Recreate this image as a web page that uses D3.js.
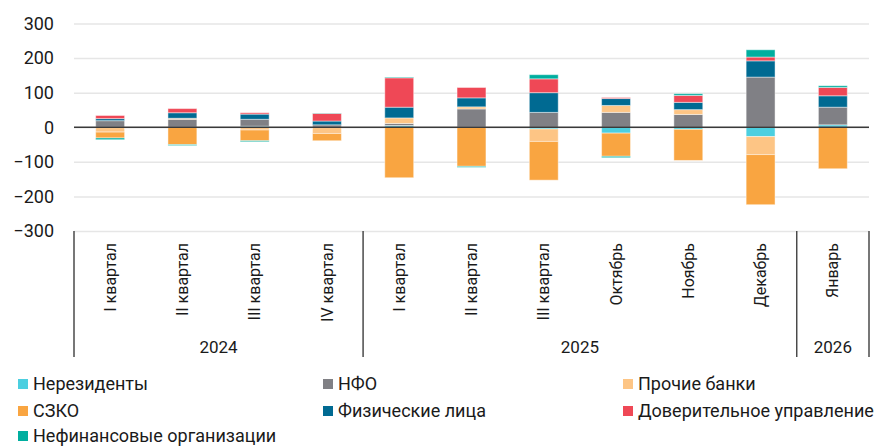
<!DOCTYPE html>
<html>
<head>
<meta charset="utf-8">
<script src="https://cdn.jsdelivr.net/npm/d3@7"></script>
<style>
  body { margin: 0; background: #fff; }
  svg { display: block; font-family: Roboto, "Noto Sans", sans-serif; }
</style>
</head>
<body>
<svg id="chart" width="891" height="447"></svg>
<script>
const categories = ['I квартал', 'II квартал', 'III квартал', 'IV квартал', 'I квартал', 'II квартал', 'III квартал', 'Октябрь', 'Ноябрь', 'Декабрь', 'Январь']
const yearLabels = ['2024', '2025', '2026']
const yearSpans = [4, 6, 1]
const yTicks = [-300, -200, -100, 0, 100, 200, 300]

const seriesNames = ['Нерезиденты', 'НФО', 'Прочие банки', 'СЗКО', 'Физические лица', 'Доверительное управление', 'Нефинансовые организации']
const seriesColors = ['#4ccfe0', '#808085', '#fdc585', '#f9a541', '#006a92', '#ef4856', '#00ae9f']

const nonResidents = [0, 0, 3, 0, 5, 0, -5, -17, -6, -27, 7]
const nfo = [19, 23, 20, 7, 6, 53, 43, 43, 37, 145, 51]
const otherBanks = [-14, 3, -8, -18, 16, 6, -36, 20, 14, -52, 0]
const szko = [-17, -50, -31, -21, -146, -113, -112, -67, -90, -145, -120]
const individuals = [6, 16, 15, 11, 31, 26, 57, 20, 21, 47, 33]
const trust = [9, 12, 4, 22, 85, 30, 40, 3, 20, 11, 24]
const nonFinancial = [-5, -3, -3, 1, 2, -3, 12, -4, 5, 21, 5]

const seriesValues = [nonResidents, nfo, otherBanks, szko, individuals, trust, nonFinancial]

const table = categories.map((c, i) => {
  const row = { idx: i }
  seriesNames.forEach((s, k) => { row[s] = seriesValues[k][i] })
  return row
})

const svg = d3.select('#chart')
const plotLeft = 74, plotRight = 869, plotTop = 23.5, plotBottom = 231, catBottom = 357

const x = d3.scaleBand()
  .domain(d3.range(categories.length))
  .range([plotLeft, plotRight])
  .paddingInner(0.6)
  .paddingOuter(0.3)

const y = d3.scaleLinear()
  .domain([-300, 300])
  .range([plotBottom, plotTop])

// grid + y labels
const yAxis = svg.append('g')
  .attr('transform', `translate(${plotLeft},0)`)
  .call(d3.axisLeft(y).tickValues(yTicks).tickSize(-(plotRight - plotLeft)).tickPadding(20))
yAxis.select('.domain').remove()
yAxis.selectAll('.tick line').attr('stroke', '#e6e6e6').attr('stroke-width', 1.5)
yAxis.selectAll('.tick text')
  .style('font-size', '18px')
  .style('font-family', 'Roboto, "Noto Sans", sans-serif')
  .attr('fill', '#1a1a1a')

const stack = d3.stack()
  .keys(seriesNames)
  .offset(d3.stackOffsetDiverging)
const stacked = stack(table)

svg.append('g')
  .selectAll('g')
  .data(stacked)
  .join('g')
  .attr('fill', (d, i) => seriesColors[i])
  .selectAll('rect')
  .data(d => d.filter(p => p[1] !== p[0]))
  .join('rect')
  .attr('x', d => x(d.data.idx))
  .attr('width', x.bandwidth())
  .attr('y', d => y(Math.max(d[0], d[1])))
  .attr('height', d => Math.abs(y(d[0]) - y(d[1])))
  .attr('stroke', '#fff')
  .attr('stroke-opacity', 0.45)
  .attr('stroke-width', 1)

// zero line
svg.append('line')
  .attr('x1', plotLeft).attr('x2', plotRight)
  .attr('y1', y(0)).attr('y2', y(0))
  .attr('stroke', '#3a3a3a')
  .attr('stroke-width', 1.5)

// category labels
svg.append('g')
  .selectAll('text')
  .data(categories)
  .join('text')
  .attr('transform', (d, i) => `translate(${x(i) + x.bandwidth() / 2},243) rotate(-90)`)
  .attr('text-anchor', 'end')
  .attr('dy', '0.35em')
  .style('font-size', '16px')
  .attr('fill', '#1a1a1a')
  .text(d => d)

// year groups
let start = 0
const bounds = [0]
yearSpans.forEach(n => { start += n; bounds.push(start) })
const step = x.step()
svg.append('g')
  .selectAll('line')
  .data(bounds)
  .join('line')
  .attr('x1', b => plotLeft + b * step).attr('x2', b => plotLeft + b * step)
  .attr('y1', plotBottom).attr('y2', catBottom)
  .attr('stroke', '#4a4a4a')
  .attr('stroke-width', 1.5)

svg.append('g')
  .selectAll('text')
  .data(yearLabels)
  .join('text')
  .attr('x', (d, i) => plotLeft + (bounds[i] + bounds[i + 1]) / 2 * step)
  .attr('y', 353)
  .attr('text-anchor', 'middle')
  .style('font-size', '17px')
  .attr('fill', '#1a1a1a')
  .text(d => d)

// legend
const legendX = [18, 323, 623]
const legendY = [384, 411, 436]
const legend = svg.append('g')
  .selectAll('g')
  .data(seriesNames)
  .join('g')
  .attr('transform', (d, i) => `translate(${legendX[i % 3]},${legendY[Math.floor(i / 3)]})`)
legend.append('rect')
  .attr('x', 0).attr('y', -5)
  .attr('width', 10).attr('height', 10)
  .attr('fill', (d, i) => seriesColors[i])
legend.append('text')
  .attr('x', 15)
  .attr('dy', '0.35em')
  .style('font-size', '18px')
  .attr('fill', '#1a1a1a')
  .text(d => d)
</script>
</body>
</html>
